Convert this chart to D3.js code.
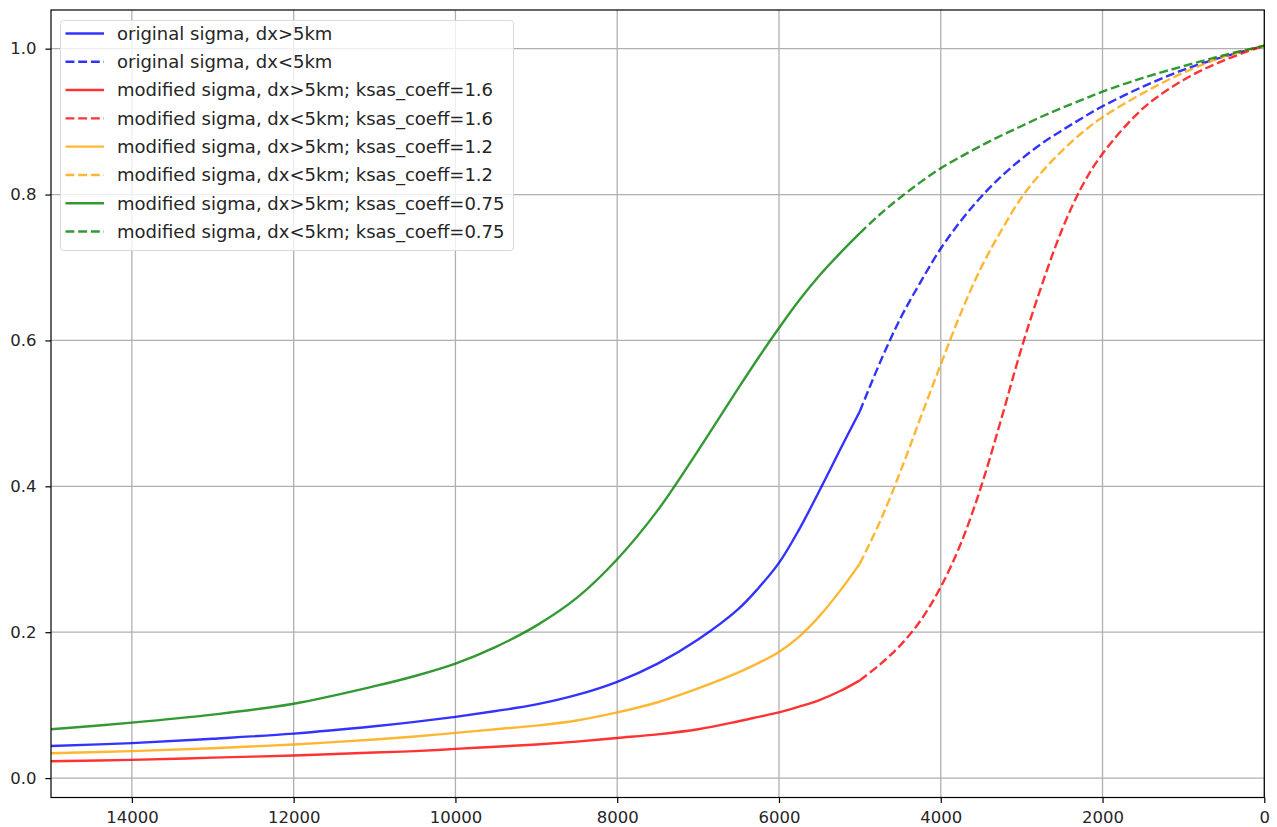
<!DOCTYPE html>
<html>
<head>
<meta charset="utf-8">
<script src="https://cdn.jsdelivr.net/npm/d3@7"></script>
<style>
  html, body { margin: 0; padding: 0; background: #fff; }
  svg { display: block; font-family: "DejaVu Sans", sans-serif; }
</style>
</head>
<body>
<svg id="chart" width="1277" height="827"></svg>
<script>
// distance (m); x axis runs from 15000 down to 0
var distance = [15000, 14000, 13000, 12000, 11000, 10500, 10000, 9500, 9000, 8500, 8000, 7500, 7000, 6500, 6250, 6000, 5750, 5500, 5250, 5000,
                4750, 4500, 4250, 4000, 3750, 3500, 3250, 3000, 2750, 2500, 2250, 2000, 1500, 1000, 500, 0]

var originalSigma = [0.044, 0.048, 0.054, 0.061, 0.071, 0.077, 0.084, 0.092, 0.101, 0.114, 0.132, 0.157, 0.190, 0.232, 0.261, 0.295, 0.341, 0.394, 0.449, 0.503,
                     0.570, 0.630, 0.680, 0.726, 0.764, 0.797, 0.825, 0.849, 0.870, 0.888, 0.905, 0.921, 0.948, 0.971, 0.989, 1.004]
var sigmaKsas16 = [0.023, 0.025, 0.028, 0.031, 0.035, 0.037, 0.040, 0.043, 0.046, 0.050, 0.055, 0.060, 0.067, 0.078, 0.084, 0.090, 0.098, 0.107, 0.119, 0.134,
                   0.156, 0.182, 0.216, 0.262, 0.322, 0.400, 0.493, 0.590, 0.676, 0.752, 0.812, 0.856, 0.918, 0.957, 0.984, 1.004]
var sigmaKsas12 = [0.034, 0.037, 0.041, 0.046, 0.053, 0.057, 0.062, 0.067, 0.072, 0.079, 0.090, 0.104, 0.123, 0.145, 0.158, 0.173, 0.194, 0.222, 0.256, 0.294,
                   0.352, 0.420, 0.494, 0.567, 0.638, 0.700, 0.751, 0.796, 0.831, 0.860, 0.885, 0.906, 0.939, 0.967, 0.989, 1.004]
var sigmaKsas075 = [0.067, 0.076, 0.087, 0.102, 0.126, 0.140, 0.157, 0.180, 0.209, 0.247, 0.300, 0.367, 0.449, 0.535, 0.577, 0.617, 0.655, 0.689, 0.719, 0.747,
                    0.773, 0.796, 0.817, 0.836, 0.852, 0.867, 0.881, 0.894, 0.907, 0.919, 0.930, 0.941, 0.960, 0.976, 0.991, 1.004]

var seriesNames = ['original sigma', 'modified sigma', 'modified sigma', 'modified sigma']
var ksasCoeff = [null, '1.6', '1.2', '0.75']
var seriesColors = ['blue', 'red', 'orange', 'green']
var splitAt = 5000

var xTicks = [14000, 12000, 10000, 8000, 6000, 4000, 2000, 0]
var yTicks = [0.0, 0.2, 0.4, 0.6, 0.8, 1.0]

;(function (d3) {
  var svg = d3.select('#chart')
  var pLeft = 51, pRight = 1264.3, pTop = 10, pBottom = 797.5

  var x = d3.scaleLinear().domain([15000, 0]).range([pLeft, pRight])
  var y = d3.scaleLinear().domain([-0.0266, 1.053]).range([pBottom, pTop])

  // grid
  svg.append('g').selectAll('line')
    .data(xTicks).enter().append('line')
    .attr('x1', function (d) { return x(d) }).attr('x2', function (d) { return x(d) })
    .attr('y1', pTop).attr('y2', pBottom)
    .attr('stroke', '#b0b0b0').attr('stroke-width', 1.3)
  svg.append('g').selectAll('line')
    .data(yTicks).enter().append('line')
    .attr('y1', function (d) { return y(d) }).attr('y2', function (d) { return y(d) })
    .attr('x1', pLeft).attr('x2', pRight)
    .attr('stroke', '#b0b0b0').attr('stroke-width', 1.3)

  var series = [originalSigma, sigmaKsas16, sigmaKsas12, sigmaKsas075]

  var line = d3.line()
    .x(function (d) { return x(d[0]) })
    .y(function (d) { return y(d[1]) })
    .curve(d3.curveCatmullRom.alpha(0.5))

  svg.append('clipPath').attr('id', 'clip')
    .append('rect').attr('x', pLeft).attr('y', pTop).attr('width', pRight - pLeft).attr('height', pBottom - pTop)

  var plot = svg.append('g').attr('clip-path', 'url(#clip)')

  series.forEach(function (vals, i) {
    var pts = distance.map(function (d, j) { return [d, vals[j]] })
    var far = pts.filter(function (p) { return p[0] >= splitAt })
    var near = pts.filter(function (p) { return p[0] <= splitAt })
    plot.append('path').datum(far)
      .attr('d', line).attr('fill', 'none')
      .attr('stroke', seriesColors[i]).attr('stroke-opacity', 0.8)
      .attr('stroke-width', 2.4)
    plot.append('path').datum(near)
      .attr('d', line).attr('fill', 'none')
      .attr('stroke', seriesColors[i]).attr('stroke-opacity', 0.8)
      .attr('stroke-width', 2.4).attr('stroke-dasharray', '8.9,3.8')
  })

  // axes
  var xAxis = d3.axisBottom(x).tickValues(xTicks).tickSize(5.6).tickPadding(8).tickFormat(d3.format('d'))
  var yAxis = d3.axisLeft(y).tickValues(yTicks).tickSize(5.6).tickPadding(9).tickFormat(d3.format('.1f'))

  var gx = svg.append('g').attr('transform', 'translate(0,' + pBottom + ')').call(xAxis)
  var gy = svg.append('g').attr('transform', 'translate(' + pLeft + ',0)').call(yAxis)
  ;[gx, gy].forEach(function (g) {
    g.select('.domain').remove()
    g.selectAll('line').attr('stroke', '#000').attr('stroke-width', 1.2)
    g.selectAll('text').attr('fill', '#262626').style('font-size', '16.5px').style('font-family', '"DejaVu Sans", sans-serif')
  })

  svg.append('rect')
    .attr('x', pLeft).attr('y', pTop).attr('width', pRight - pLeft).attr('height', pBottom - pTop)
    .attr('fill', 'none').attr('stroke', '#000').attr('stroke-width', 1.2)

  // legend
  var legendItems = []
  series.forEach(function (s, i) {
    var suffix = ksasCoeff[i] ? '; ksas_coeff=' + ksasCoeff[i] : ''
    legendItems.push({ label: seriesNames[i] + ', dx>5km' + suffix, color: seriesColors[i], dash: null })
    legendItems.push({ label: seriesNames[i] + ', dx<5km' + suffix, color: seriesColors[i], dash: '8.9,3.8' })
  })

  var legend = svg.append('g')
  legend.append('rect')
    .attr('x', 60.5).attr('y', 20.5).attr('width', 453).attr('height', 230)
    .attr('rx', 3).attr('fill', '#fff').attr('fill-opacity', 0.8)
    .attr('stroke', '#d9d9d9').attr('stroke-width', 1)

  var rowY = d3.scaleLinear().domain([0, 7]).range([33.5, 231.5])
  var rows = legend.selectAll('g.row').data(legendItems).enter().append('g')
    .attr('transform', function (d, i) { return 'translate(0,' + rowY(i) + ')' })
  rows.append('line')
    .attr('x1', 65.5).attr('x2', 104).attr('y1', 0).attr('y2', 0)
    .attr('stroke', function (d) { return d.color }).attr('stroke-opacity', 0.8)
    .attr('stroke-width', 2.4)
    .attr('stroke-dasharray', function (d) { return d.dash })
  rows.append('text')
    .attr('x', 117).attr('y', 0).attr('dy', '0.35em')
    .attr('fill', '#262626').style('font-size', '18px')
    .text(function (d) { return d.label })
})(window.d3)
</script>
</body>
</html>
